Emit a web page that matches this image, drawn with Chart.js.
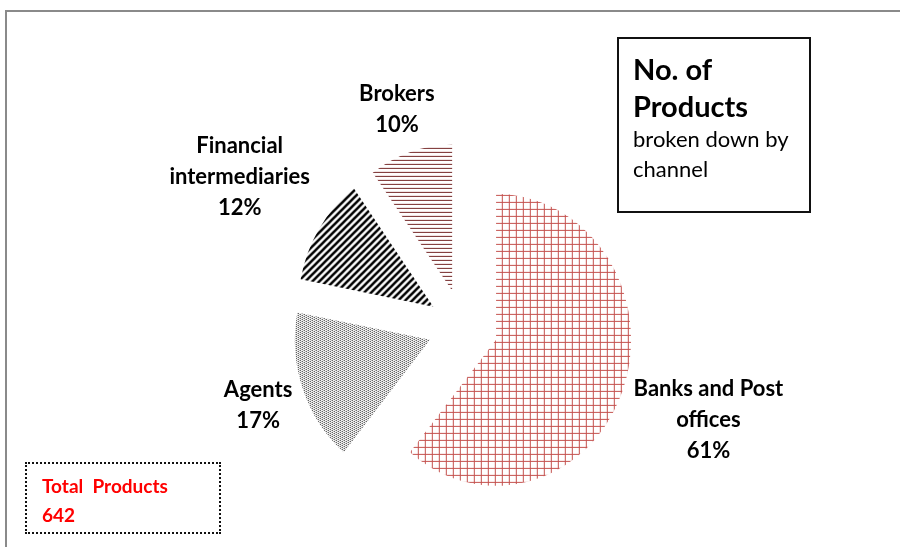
<!DOCTYPE html>
<html>
<head>
<meta charset="utf-8">
<title>No. of Products broken down by channel</title>
<script src="https://cdn.jsdelivr.net/npm/chart.js@4.4.1/dist/chart.umd.min.js"></script>
<style>
  html, body { margin: 0; padding: 0; background: #fff; }
  #wrap { position: relative; width: 900px; height: 547px; overflow: hidden; font-family: Lato, "Liberation Sans", sans-serif; }
  #frame { position: absolute; left: 5px; top: 10px; width: 920px; height: 560px; border-top: 2px solid #8a8a8a; border-left: 2px solid #8a8a8a; }
  #chartBox { position: absolute; left: 0; top: 0; width: 900px; height: 547px; }
  #heading { position: absolute; left: 617px; top: 37px; width: 194px; height: 176px; box-sizing: border-box; border: 2px solid #111; padding: 11px 0 0 14px; color: #000; }
  #heading .big { font-size: 29px; font-weight: bold; line-height: 37px; }
  #heading .small { font-size: 22px; line-height: 30px; }
  #total { position: absolute; left: 25px; top: 462px; width: 196px; height: 72px; box-sizing: border-box; border: 2px dotted #111; padding: 7px 0 0 15px; color: #ff0000; font-size: 19px; font-weight: bold; line-height: 29px; white-space: pre; }
</style>
</head>
<body>
<div id="wrap">
  <div id="frame"></div>
  <div id="chartBox"><canvas id="channelChart"></canvas></div>
  <div id="heading">
    <div class="big">No. of</div>
    <div class="big">Products</div>
    <div class="small">broken down by</div>
    <div class="small">channel</div>
  </div>
  <div id="total"></div>
</div>
<script>
// share of products per distribution channel (%)
const channels = [['Banks and Post', 'offices'], ['Agents'], ['Financial', 'intermediaries'], ['Brokers']];
const shares = [61, 17, 12, 10];
const totalProducts = 642;

const EXPLODE = 38;      // px each slice is pulled out from the centre
const X_SCALE = 0.925;   // the pie is drawn slightly narrower than tall
const LABEL_GAP = 12;
const LINE_H = 31;

document.getElementById('total').textContent = 'Total  Products\n' + totalProducts;

function makePattern(w, h, paint) {
    const c = document.createElement('canvas');
    c.width = w;
    c.height = h;
    const g = c.getContext('2d');
    paint(g);
    const p = g.createPattern(c, 'repeat');
    // undo the x squeeze so the hatching keeps its pixel size
    p.setTransform(new DOMMatrix([1 / X_SCALE, 0, 0, 1, 0, 0]));
    return p;
}

// red grid
const gridFill = makePattern(7, 7, g => {
    g.fillStyle = '#c4504d';
    g.fillRect(0, 0, 7, 1);
    g.fillRect(0, 0, 1, 7);
});
// fine dots on a diagonal lattice
const dotFill = makePattern(4, 2, g => {
    g.fillStyle = '#000';
    g.fillRect(0, 0, 1, 1);
    g.fillRect(2, 1, 1, 1);
});
// wide upward diagonal
const diagFill = makePattern(7, 7, g => {
    g.strokeStyle = '#000';
    g.lineWidth = 2.6;
    g.beginPath();
    g.moveTo(-1, 8); g.lineTo(8, -1);
    g.moveTo(-4, 4); g.lineTo(4, -4);
    g.moveTo(3, 11); g.lineTo(11, 3);
    g.stroke();
});
// dark horizontal lines
const hLineFill = makePattern(4, 4, g => {
    g.fillStyle = '#742626';
    g.fillRect(0, 0, 4, 1);
});

// draws every arc pulled out along its mid angle, on a slightly squeezed x axis
const explodedPie = {
    id: 'explodedPie',
    beforeDatasetDraw(chart, args) {
        const ctx = chart.ctx;
        args.meta.data.forEach(arc => {
            const mid = (arc.startAngle + arc.endAngle) / 2;
            ctx.save();
            ctx.translate(arc.x, arc.y);
            ctx.scale(X_SCALE, 1);
            ctx.translate(-arc.x, -arc.y);
            ctx.translate(Math.cos(mid) * EXPLODE, Math.sin(mid) * EXPLODE);
            arc.draw(ctx);
            ctx.restore();
        });
        return false;
    }
};

// category + percentage outside each slice
const sliceLabels = {
    id: 'sliceLabels',
    afterDatasetsDraw(chart) {
        const ctx = chart.ctx;
        const arcs = chart.getDatasetMeta(0).data;
        ctx.save();
        ctx.font = 'bold 22px Lato';
        ctx.fillStyle = '#000';
        ctx.textAlign = 'center';
        ctx.textBaseline = 'middle';
        arcs.forEach((arc, i) => {
            const lines = [...channels[i], shares[i] + '%'];
            const w = Math.max(...lines.map(t => ctx.measureText(t).width));
            const h = lines.length * LINE_H;
            const mid = (arc.startAngle + arc.endAngle) / 2;
            const dx = Math.cos(mid), dy = Math.sin(mid);
            const dist = arc.outerRadius + EXPLODE + LABEL_GAP;
            const ax = arc.x + dx * dist * X_SCALE;
            const ay = arc.y + dy * dist;
            // push the label box out until its edge sits on the anchor
            const t = Math.min(w / 2 / Math.max(Math.abs(dx), 1e-6), h / 2 / Math.max(Math.abs(dy), 1e-6));
            const cx = ax + dx * t;
            const cy = ay + dy * t;
            lines.forEach((s, k) => ctx.fillText(s, cx, cy - h / 2 + LINE_H * (k + 0.5)));
        });
        ctx.restore();
    }
};

const ctx = document.getElementById('channelChart').getContext('2d');
new Chart(ctx, {
    type: 'pie',
    data: {
        labels: channels,
        datasets: [{
            data: shares,
            backgroundColor: [gridFill, dotFill, diagFill, hLineFill],
            borderWidth: 0
        }]
    },
    options: {
        responsive: true,
        maintainAspectRatio: false,
        animation: false,
        events: [],
        radius: 146,
        layout: { padding: { left: 26, right: 0, top: 107, bottom: 0 } },
        plugins: {
            legend: { display: false },
            tooltip: { enabled: false }
        }
    },
    plugins: [explodedPie, sliceLabels]
});
</script>
</body>
</html>
